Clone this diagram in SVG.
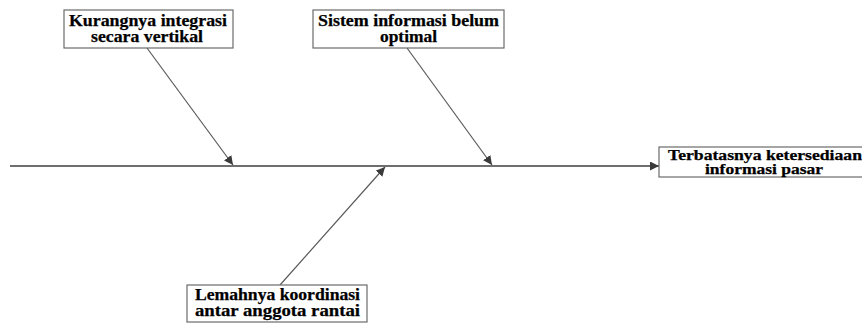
<svg xmlns="http://www.w3.org/2000/svg" width="862" height="324" viewBox="0 0 862 324">
  <style>
    .box { fill: #ffffff; stroke: #6b6b6b; stroke-width: 1.2; }
    .lbl { font-family: "Liberation Serif", "Times New Roman", serif; font-weight: 700; font-size: 16px; fill: #000000; stroke: #000000; stroke-width: 0.25; }
    .sm { font-size: 14px; }
    .line { stroke: #5a5a5a; stroke-width: 1.2; fill: none; }
    .spine { stroke: #6e6e6e; stroke-width: 2; fill: none; }
  </style>
  <defs>
    <marker id="arrow" viewBox="0 0 10 10" refX="10" refY="5" markerWidth="9" markerHeight="9" markerUnits="userSpaceOnUse" orient="auto">
      <path d="M0,0 L10,5 L0,10 z" fill="#3a3a3a"/>
    </marker>
  </defs>
  <rect width="862" height="324" fill="#ffffff"/>

  <g id="connectors">
    <line class="spine" x1="10" y1="166" x2="659" y2="166" marker-end="url(#arrow)"/>
    <line class="line" x1="147" y1="48" x2="233" y2="165" marker-end="url(#arrow)"/>
    <line class="line" x1="407" y1="48" x2="492" y2="165" marker-end="url(#arrow)"/>
    <line class="line" x1="280" y1="285" x2="385" y2="167" marker-end="url(#arrow)"/>
  </g>

  <g id="node-integrasi">
    <rect class="box" x="64" y="10" width="169" height="38"/>
    <text class="lbl" x="69" y="26" textLength="158" lengthAdjust="spacingAndGlyphs">Kurangnya integrasi</text>
    <text class="lbl" x="91" y="42" textLength="112" lengthAdjust="spacingAndGlyphs">secara vertikal</text>
  </g>

  <g id="node-sistem">
    <rect class="box" x="313" y="10" width="191" height="38"/>
    <text class="lbl" x="318" y="26" textLength="181" lengthAdjust="spacingAndGlyphs">Sistem informasi belum</text>
    <text class="lbl" x="380" y="42" textLength="57" lengthAdjust="spacingAndGlyphs">optimal</text>
  </g>

  <g id="node-hasil">
    <rect class="box" x="659" y="147" width="212" height="30"/>
    <text class="lbl sm" x="668" y="160" textLength="194" lengthAdjust="spacingAndGlyphs">Terbatasnya ketersediaan</text>
    <text class="lbl sm" x="705" y="174" textLength="118" lengthAdjust="spacingAndGlyphs">informasi pasar</text>
  </g>

  <g id="node-koordinasi">
    <rect class="box" x="187" y="285" width="180" height="37"/>
    <text class="lbl" x="195" y="300" textLength="165" lengthAdjust="spacingAndGlyphs">Lemahnya koordinasi</text>
    <text class="lbl" x="195" y="316" textLength="165" lengthAdjust="spacingAndGlyphs">antar anggota rantai</text>
  </g>
</svg>
